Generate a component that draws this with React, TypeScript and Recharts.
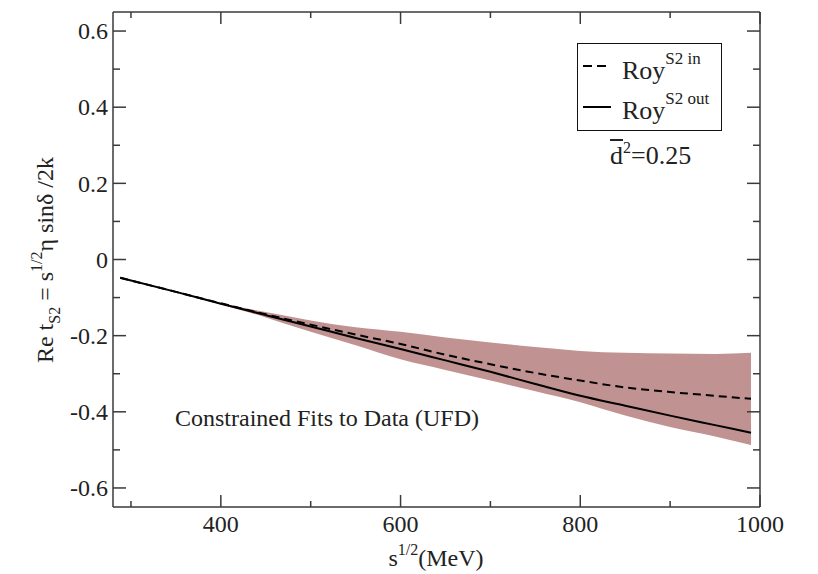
import React from 'react';
import { ComposedChart, Area, Line, XAxis, YAxis } from 'recharts';

// sqrt(s) in MeV
const energies = [288, 350, 400, 450, 500, 550, 600, 650, 700, 750, 800, 850, 900, 950, 990];
// Roy S2 out (solid)
const royOut = [-0.048, -0.085, -0.116, -0.146, -0.176, -0.206, -0.235, -0.265, -0.295, -0.327, -0.358, -0.384, -0.41, -0.435, -0.455];
// Roy S2 in (dashed)
const royIn = [-0.048, -0.085, -0.115, -0.144, -0.171, -0.197, -0.222, -0.25, -0.275, -0.298, -0.318, -0.336, -0.348, -0.358, -0.366];
// UFD error band
const bandUpper = [-0.048, -0.085, -0.114, -0.138, -0.16, -0.178, -0.19, -0.205, -0.218, -0.23, -0.24, -0.245, -0.247, -0.248, -0.245];
const bandLower = [-0.048, -0.085, -0.118, -0.152, -0.19, -0.225, -0.262, -0.29, -0.318, -0.346, -0.375, -0.41, -0.44, -0.465, -0.487];

const xTicks = [300, 400, 500, 600, 700, 800, 900, 1000];
const yTicks = [-0.6, -0.5, -0.4, -0.3, -0.2, -0.1, 0, 0.1, 0.2, 0.3, 0.4, 0.5, 0.6];

const data = energies.map((s, i) => ({
    s,
    out: royOut[i],
    in: royIn[i],
    band: [bandLower[i], bandUpper[i]],
}));

const FONT = "'Liberation Serif', 'Times New Roman', serif";
const AXIS = '#3a3a3a';
const TXT = '#222';

const isMajorX = (v: number) => v % 200 === 0;
const isMajorY = (v: number) => Math.abs(Math.round(v * 10)) % 2 === 0;
const fmtY = (v: number) => (v === 0 ? '0' : v.toFixed(1));

const labelStyle: React.CSSProperties = { fontFamily: FONT, fontSize: 24, fill: TXT };

const BottomTick = ({ x, y, payload }: any) => {
    const major = isMajorX(payload.value);
    return (
        <g>
            <line x1={x} x2={x} y1={y} y2={y - (major ? 12 : 6)} stroke={AXIS} strokeWidth={1.5} />
            {major && (
                <text x={x} y={y + 25} textAnchor="middle" style={labelStyle}>
                    {payload.value}
                </text>
            )}
        </g>
    );
};

const TopTick = ({ x, y, payload }: any) => {
    const major = isMajorX(payload.value);
    return <line x1={x} x2={x} y1={y} y2={y + (major ? 12 : 6)} stroke={AXIS} strokeWidth={1.5} />;
};

const LeftTick = ({ x, y, payload }: any) => {
    const major = isMajorY(payload.value);
    return (
        <g>
            <line x1={x} x2={x + (major ? 13 : 7)} y1={y} y2={y} stroke={AXIS} strokeWidth={1.5} />
            {major && (
                <text x={x - 5} y={y} dy="0.34em" textAnchor="end" style={labelStyle}>
                    {fmtY(payload.value)}
                </text>
            )}
        </g>
    );
};

const RightTick = ({ x, y, payload }: any) => {
    const major = isMajorY(payload.value);
    return <line x1={x} x2={x - (major ? 13 : 7)} y1={y} y2={y} stroke={AXIS} strokeWidth={1.5} />;
};

// raised / lowered small text that does not change the line box
const shift = (fs: number, dy: number): React.CSSProperties => ({ fontSize: fs, position: 'relative', top: dy, lineHeight: 0 });

export default function App() {
    return (
        <div style={{ position: 'absolute', left: 0, top: 0, width: 818, height: 574, background: '#fff', fontFamily: FONT, color: TXT }}>
            <ComposedChart width={818} height={574} data={data} margin={{ top: 2, right: 48, bottom: 27, left: 53 }}>
                <XAxis xAxisId="b" dataKey="s" type="number" domain={[280, 1000]} ticks={xTicks} interval={0}
                    height={40} tickSize={0} tickMargin={0} tickLine={false} tick={<BottomTick />}
                    axisLine={{ stroke: AXIS, strokeWidth: 1.5 }} allowDataOverflow />
                <XAxis xAxisId="t" orientation="top" dataKey="s" type="number" domain={[280, 1000]} ticks={xTicks} interval={0}
                    height={10} tickSize={0} tickMargin={0} tickLine={false} tick={<TopTick />}
                    axisLine={{ stroke: AXIS, strokeWidth: 1.5 }} allowDataOverflow />
                <YAxis yAxisId="l" type="number" domain={[-0.65, 0.65]} ticks={yTicks} interval={0}
                    width={60} tickSize={0} tickMargin={0} tickLine={false} tick={<LeftTick />}
                    axisLine={{ stroke: AXIS, strokeWidth: 1.5 }} allowDataOverflow />
                <YAxis yAxisId="r" orientation="right" type="number" domain={[-0.65, 0.65]} ticks={yTicks} interval={0}
                    width={10} tickSize={0} tickMargin={0} tickLine={false} tick={<RightTick />}
                    axisLine={{ stroke: AXIS, strokeWidth: 1.5 }} allowDataOverflow />
                <Area xAxisId="b" yAxisId="l" type="monotone" dataKey="band" stroke="none" fill="#c09291" fillOpacity={1}
                    isAnimationActive={false} dot={false} activeDot={false} />
                <Line xAxisId="b" yAxisId="l" type="monotone" dataKey="in" stroke="#000" strokeWidth={2}
                    strokeDasharray="8 5" dot={false} activeDot={false} isAnimationActive={false} />
                <Line xAxisId="b" yAxisId="l" type="monotone" dataKey="out" stroke="#000" strokeWidth={2}
                    dot={false} activeDot={false} isAnimationActive={false} />
            </ComposedChart>

            {/* y axis title */}
            <div style={{ position: 'absolute', left: 45, top: 260, transform: 'translate(-50%, -50%) rotate(-90deg)', whiteSpace: 'nowrap', fontSize: 24, lineHeight: '24px' }}>
                Re t<span style={shift(16, 7)}>S2</span> = s<span style={shift(16, -11)}>1/2</span>η sinδ /2k
            </div>

            {/* x axis title */}
            <div style={{ position: 'absolute', left: 436, top: 546, transform: 'translateX(-50%)', whiteSpace: 'nowrap', fontSize: 24, lineHeight: '24px' }}>
                s<span style={shift(16, -11)}>1/2</span>(MeV)
            </div>

            {/* legend */}
            <div style={{ position: 'absolute', left: 577, top: 43, width: 145, height: 88, border: '1.5px solid #111', boxSizing: 'border-box' }}>
                <svg width={40} height={88} style={{ position: 'absolute', left: 0, top: 0 }}>
                    <line x1={5} x2={33} y1={22} y2={22} stroke="#000" strokeWidth={2} strokeDasharray="9 5" />
                    <line x1={5} x2={33} y1={63} y2={63} stroke="#000" strokeWidth={2} />
                </svg>
                <div style={{ position: 'absolute', left: 44, top: 14, whiteSpace: 'nowrap', fontSize: 26, lineHeight: '26px' }}>
                    Roy<span style={shift(17, -15)}>S2 in</span>
                </div>
                <div style={{ position: 'absolute', left: 44, top: 54, whiteSpace: 'nowrap', fontSize: 26, lineHeight: '26px' }}>
                    Roy<span style={shift(17, -15)}>S2 out</span>
                </div>
            </div>

            <div style={{ position: 'absolute', left: 610, top: 143, whiteSpace: 'nowrap', fontSize: 26, lineHeight: '26px' }}>
                <span style={{ textDecoration: 'overline' }}>d</span><span style={shift(16, -11)}>2</span>=0.25
            </div>

            <div style={{ position: 'absolute', left: 175, top: 406, whiteSpace: 'nowrap', fontSize: 24, lineHeight: '24px' }}>
                Constrained Fits to Data (UFD)
            </div>
        </div>
    );
}
